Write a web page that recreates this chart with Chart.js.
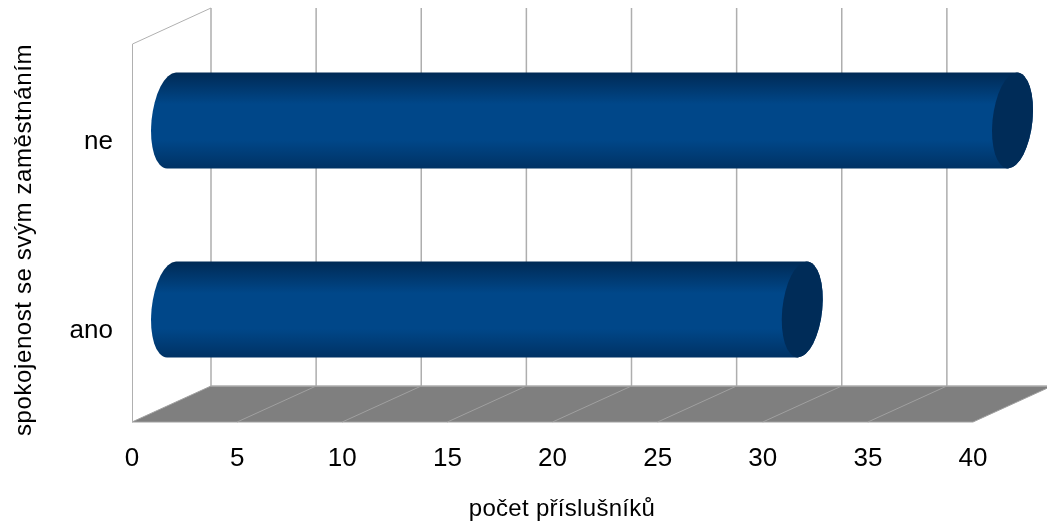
<!DOCTYPE html>
<html lang="cs">
<head>
<meta charset="utf-8">
<title>Spokojenost se zaměstnáním</title>
<script src="https://cdn.jsdelivr.net/npm/chart.js@4"></script>
<style>
  html, body { margin: 0; padding: 0; background: #fff; overflow: hidden; }
  canvas { display: block; }
</style>
</head>
<body>
<canvas id="chart" width="1047" height="526"></canvas>
<script>
const categories = ['ne', 'ano'];
const counts = [40, 30];
const xTitle = 'počet příslušníků';
const yTitle = 'spokojenost se svým zaměstnáním';

// 3D box offset between the front plane and the back wall
const DEPTH_X = 79;
const DEPTH_Y = 36;
const FONT = '"Liberation Sans", Arial, sans-serif';

// Walls, floor and grid, all hung off the x scale
const box3d = {
  id: 'box3d',
  beforeDatasetsDraw(chart) {
    const { ctx, chartArea: area, scales: { x } } = chart;
    const top = area.top, floor = area.bottom;
    ctx.save();

    ctx.fillStyle = '#7f7f7f';
    ctx.beginPath();
    ctx.moveTo(x.getPixelForValue(0), floor);
    ctx.lineTo(x.getPixelForValue(0) + DEPTH_X, floor - DEPTH_Y);
    ctx.lineTo(x.getPixelForValue(40) + DEPTH_X, floor - DEPTH_Y);
    ctx.lineTo(x.getPixelForValue(40), floor);
    ctx.closePath();
    ctx.fill();

    ctx.strokeStyle = '#aeaeae';
    ctx.lineWidth = 1.5;
    ctx.beginPath();
    x.ticks.forEach(t => {
      const px = x.getPixelForValue(t.value);
      ctx.moveTo(px + DEPTH_X, top - DEPTH_Y);
      ctx.lineTo(px + DEPTH_X, floor - DEPTH_Y);
    });
    ctx.moveTo(x.getPixelForValue(0) + DEPTH_X, floor - DEPTH_Y);
    ctx.lineTo(x.getPixelForValue(40) + DEPTH_X, floor - DEPTH_Y);
    ctx.stroke();

    // floor lines and the front edge
    ctx.lineWidth = 1;
    ctx.strokeStyle = '#a0a0a0';
    ctx.beginPath();
    x.ticks.forEach(t => {
      const px = x.getPixelForValue(t.value);
      ctx.moveTo(px, floor);
      ctx.lineTo(px + DEPTH_X, floor - DEPTH_Y);
    });
    ctx.moveTo(x.getPixelForValue(0), floor);
    ctx.lineTo(x.getPixelForValue(40), floor);
    ctx.stroke();

    // left wall
    const x0 = x.getPixelForValue(0);
    ctx.strokeStyle = '#b0b0b0';
    ctx.beginPath();
    ctx.moveTo(x0 + 0.5, floor);
    ctx.lineTo(x0 + 0.5, top);
    ctx.lineTo(x0 + DEPTH_X, top - DEPTH_Y);
    ctx.stroke();
    ctx.restore();
  }
};

// Bars are painted as cylinders sitting halfway into the box
const cylinders = {
  id: 'cylinders',
  beforeDatasetDraw(chart, args) {
    const { ctx } = chart;
    const skew = 4.5;
    const rx = 20;
    args.meta.data.forEach(bar => {
      const { x, y, base, height } = bar.getProps(['x', 'y', 'base', 'height'], true);
      const start = base + DEPTH_X / 2;
      const end = x + DEPTH_X / 2;
      const cy = y - DEPTH_Y / 2;
      const ry = height / 2;

      const grad = ctx.createLinearGradient(0, cy - ry, 0, cy + ry);
      grad.addColorStop(0, '#002a55');
      grad.addColorStop(0.33, '#004789');
      grad.addColorStop(0.7, '#004789');
      grad.addColorStop(1, '#003264');

      ctx.save();
      ctx.beginPath();
      ctx.save();
      ctx.transform(1, 0, -skew / ry, 1, 0, cy);
      ctx.ellipse(start, 0, rx, ry, 0, -Math.PI / 2, Math.PI / 2, true);
      ctx.ellipse(end, 0, rx, ry, 0, Math.PI / 2, -Math.PI / 2, true);
      ctx.closePath();
      ctx.restore();
      ctx.fillStyle = grad;
      ctx.fill();

      // end cap
      ctx.beginPath();
      ctx.save();
      ctx.transform(1, 0, -skew / ry, 1, 0, cy);
      ctx.ellipse(end, 0, rx, ry, 0, 0, Math.PI * 2);
      ctx.restore();
      ctx.fillStyle = '#002c58';
      ctx.fill();
      ctx.restore();
    });
    return false;
  }
};

// Axis titles sit off-centre from the plot, so they are placed by hand
const axisTitles = {
  id: 'axisTitles',
  afterDraw(chart) {
    const { ctx } = chart;
    ctx.save();
    ctx.fillStyle = '#000';
    ctx.textAlign = 'center';
    ctx.textBaseline = 'middle';
    ctx.font = '24px ' + FONT;
    ctx.letterSpacing = '0.3px';
    ctx.fillText(xTitle, 562, 509);
    ctx.letterSpacing = '0.6px';
    ctx.translate(24, 240);
    ctx.rotate(-Math.PI / 2);
    ctx.fillText(yTitle, 0, 0);
    ctx.restore();
  }
};

new Chart(document.getElementById('chart'), {
  type: 'bar',
  data: {
    labels: categories,
    datasets: [{ label: xTitle, data: counts, backgroundColor: '#00488c', barThickness: 96 }]
  },
  plugins: [box3d, cylinders, axisTitles],
  options: {
    indexAxis: 'y',
    responsive: false,
    animation: false,
    layout: { padding: { top: 44, right: 74 } },
    plugins: { legend: { display: false }, tooltip: { enabled: false } },
    scales: {
      x: {
        min: 0,
        max: 40,
        ticks: { stepSize: 5, color: '#000', maxRotation: 0, padding: 21, font: { family: FONT, size: 26 } },
        grid: { display: false, drawTicks: false },
        border: { display: false },
        afterFit(scale) { scale.height = 104; }
      },
      y: {
        ticks: { color: '#000', padding: 19, labelOffset: 3, font: { family: FONT, size: 26 } },
        grid: { display: false, drawTicks: false },
        border: { display: false },
        afterFit(scale) { scale.width = 132; }
      }
    }
  }
});
</script>
</body>
</html>
